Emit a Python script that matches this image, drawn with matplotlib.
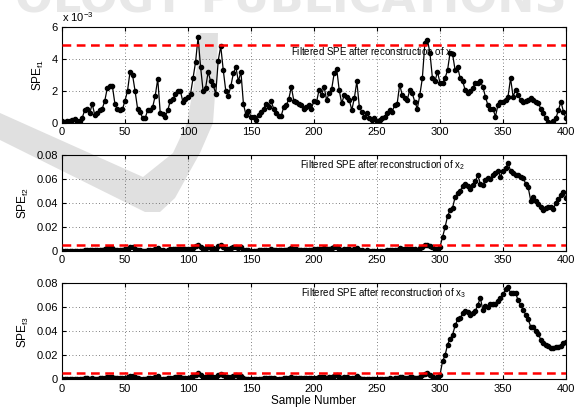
import numpy as np
import matplotlib
matplotlib.use("Agg")
import matplotlib.pyplot as plt
from matplotlib.patches import Polygon

plt.rcParams["font.family"] = ["Liberation Sans", "DejaVu Sans"]
plt.rcParams["mathtext.fontset"] = "custom"
plt.rcParams["mathtext.rm"] = "Liberation Sans"
plt.rcParams["mathtext.it"] = "Liberation Sans:italic"

# sample index (every second sample)
samples = np.arange(0, 401, 2)

# filtered SPE values, in units of 1e-3
spe_f1 = [
    0.10, 0.05, 0.15, 0.10, 0.20, 0.25, 0.10, 0.15, 0.30, 0.80,
    0.90, 0.60, 1.20, 0.50, 0.60, 0.80, 0.90, 1.40, 2.20, 2.30,
    2.30, 1.20, 0.85, 0.80, 0.85, 1.40, 2.00, 3.20, 3.00, 2.00,
    0.90, 0.70, 0.30, 0.30, 0.80, 0.80, 1.00, 1.70, 2.75, 0.60,
    0.55, 0.40, 0.80, 1.40, 1.50, 1.80, 2.00, 2.00, 1.30, 1.50,
    1.60, 1.80, 2.80, 3.80, 5.35, 3.50, 2.00, 2.20, 3.20, 2.60,
    2.40, 1.80, 3.90, 4.80, 3.30, 2.00, 1.70, 2.30, 3.10, 3.50,
    2.60, 3.20, 1.20, 0.50, 0.75, 0.40, 0.35, 0.20, 0.50, 0.70,
    0.90, 1.20, 1.00, 1.35, 0.90, 0.60, 0.45, 0.45, 1.00, 1.10,
    1.50, 2.25, 1.40, 1.30, 1.20, 1.10, 0.90, 1.00, 1.10, 0.90,
    1.40, 1.30, 2.06, 1.75, 2.27, 1.44, 1.85, 2.10, 3.10, 3.40,
    2.06, 1.23, 1.75, 1.65, 1.44, 0.81, 1.54, 2.60, 1.00, 0.70,
    0.40, 0.60, 0.29, 0.19, 0.29, 0.10, 0.20, 0.30, 0.40, 0.60,
    0.80, 0.70, 1.10, 1.20, 2.40, 1.75, 1.54, 1.44, 2.06, 1.85,
    1.33, 0.90, 1.75, 2.80, 5.00, 5.20, 4.40, 2.80, 2.60, 3.20,
    2.50, 2.50, 2.80, 3.30, 4.40, 4.30, 3.30, 3.50, 2.80, 2.60,
    2.06, 1.85, 2.00, 2.20, 2.50, 2.50, 2.60, 2.27, 1.65, 1.12,
    0.90, 0.90, 0.40, 1.12, 1.30, 1.33, 1.44, 1.65, 2.80, 1.65,
    2.06, 1.75, 1.44, 1.33, 1.40, 1.44, 1.54, 1.44, 1.30, 1.23,
    0.90, 0.60, 0.29, 0.08, 0.02, 0.10, 0.29, 0.80, 1.33, 0.70,
    0.29,
]

spe_f2 = [
    0.10, 0.05, 0.15, 0.10, 0.20, 0.25, 0.10, 0.15, 0.30, 0.80,
    0.90, 0.60, 1.20, 0.50, 0.60, 0.80, 0.90, 1.40, 2.20, 2.30,
    2.30, 1.20, 0.85, 0.80, 0.85, 1.40, 2.00, 3.20, 3.00, 2.00,
    0.90, 0.70, 0.30, 0.30, 0.80, 0.80, 1.00, 1.70, 2.75, 0.60,
    0.55, 0.40, 0.80, 1.40, 1.50, 1.80, 2.00, 2.00, 1.30, 1.50,
    1.60, 1.80, 2.80, 3.80, 5.35, 3.50, 2.00, 2.20, 3.20, 2.60,
    2.40, 1.80, 3.90, 4.80, 3.30, 2.00, 1.70, 2.30, 3.10, 3.50,
    2.60, 3.20, 1.20, 0.50, 0.75, 0.40, 0.35, 0.20, 0.50, 0.70,
    0.90, 1.20, 1.00, 1.35, 0.90, 0.60, 0.45, 0.45, 1.00, 1.10,
    1.50, 2.25, 1.40, 1.30, 1.20, 1.10, 0.90, 1.00, 1.10, 0.90,
    1.40, 1.30, 2.06, 1.75, 2.27, 1.44, 1.85, 2.10, 3.10, 3.40,
    2.06, 1.23, 1.75, 1.65, 1.44, 0.81, 1.54, 2.60, 1.00, 0.70,
    0.40, 0.60, 0.29, 0.19, 0.29, 0.10, 0.20, 0.30, 0.40, 0.60,
    0.80, 0.70, 1.10, 1.20, 2.40, 1.75, 1.54, 1.44, 2.06, 1.85,
    1.33, 0.90, 2.20, 3.60, 4.80, 5.00, 4.00, 3.00, 1.50, 2.00,
    3.6, 11.4, 19.7, 29.0, 34.0, 36.0, 45.0, 48.0, 50.0, 54.0,
    56.0, 54.0, 52.0, 55.0, 58.0, 63.0, 56.0, 55.0, 59.0, 61.0,
    60.0, 63.0, 65.0, 67.0, 62.0, 67.0, 69.0, 73.0, 67.0, 65.0,
    63.0, 63.0, 62.0, 61.0, 56.0, 53.0, 42.0, 45.0, 42.0, 39.5,
    37.0, 34.0, 36.0, 37.0, 37.0, 35.0, 40.0, 43.0, 47.0, 49.0,
    44.0,
]

spe_f3 = [
    0.10, 0.05, 0.15, 0.10, 0.20, 0.25, 0.10, 0.15, 0.30, 0.80,
    0.90, 0.60, 1.20, 0.50, 0.60, 0.80, 0.90, 1.40, 2.20, 2.30,
    2.30, 1.20, 0.85, 0.80, 0.85, 1.40, 2.00, 3.20, 3.00, 2.00,
    0.90, 0.70, 0.30, 0.30, 0.80, 0.80, 1.00, 1.70, 2.75, 0.60,
    0.55, 0.40, 0.80, 1.40, 1.50, 1.80, 2.00, 2.00, 1.30, 1.50,
    1.60, 1.80, 2.80, 3.80, 5.35, 3.50, 2.00, 2.20, 3.20, 2.60,
    2.40, 1.80, 3.90, 4.80, 3.30, 2.00, 1.70, 2.30, 3.10, 3.50,
    2.60, 3.20, 1.20, 0.50, 0.75, 0.40, 0.35, 0.20, 0.50, 0.70,
    0.90, 1.20, 1.00, 1.35, 0.90, 0.60, 0.45, 0.45, 1.00, 1.10,
    1.50, 2.25, 1.40, 1.30, 1.20, 1.10, 0.90, 1.00, 1.10, 0.90,
    1.40, 1.30, 2.06, 1.75, 2.27, 1.44, 1.85, 2.10, 3.10, 3.40,
    2.06, 1.23, 1.75, 1.65, 1.44, 0.81, 1.54, 2.60, 1.00, 0.70,
    0.40, 0.60, 0.29, 0.19, 0.29, 0.10, 0.20, 0.30, 0.40, 0.60,
    0.80, 0.70, 1.10, 1.20, 2.40, 1.75, 1.54, 1.44, 2.06, 1.85,
    1.33, 0.90, 2.20, 3.60, 4.80, 5.00, 4.00, 3.00, 1.50, 2.00,
    3.7, 15.0, 20.0, 29.0, 34.0, 37.0, 45.0, 50.0, 51.0, 55.0,
    57.0, 56.0, 54.0, 55.0, 57.0, 62.0, 68.0, 58.0, 61.0, 60.0,
    63.0, 63.0, 63.0, 65.0, 68.0, 71.0, 75.0, 77.0, 72.0, 72.0,
    72.0, 66.0, 62.0, 58.0, 54.0, 50.0, 44.0, 44.0, 40.0, 38.0,
    33.0, 30.0, 29.0, 28.0, 26.0, 26.0, 27.0, 27.0, 28.0, 30.0,
    31.0,
]

# control limits (units of 1e-3)
limits = [4.85, 5.2, 5.2]
ylabels = [r"SPE$_{\mathrm{f1}}$", r"SPE$_{\mathrm{f2}}$", r"SPE$_{\mathrm{f3}}$"]
notes = ["Filtered SPE after reconstruction of x$_1$",
         "Filtered SPE after reconstruction of x$_2$",
         "Filtered SPE after reconstruction of x$_3$"]
note_pos = [(182, 4.4), (189, 0.0717), (190, 0.0719)]

fig = plt.figure(figsize=(5.82, 4.12), dpi=100)
fig.patch.set_facecolor("white")

# journal watermark behind the plots
fig.text(0.5, 0.947, "OLOGY PUBLICATIONS", ha="center", va="bottom",
         fontsize=32, fontweight="bold", color="#e8e8e8",
         family="DejaVu Sans", zorder=-2)
vmark = np.array([(0, 113), (143, 177), (173, 153), (187, 123), (197, 67),
                  (200, 33), (218, 33), (217, 67), (213, 123), (200, 153),
                  (175, 198), (160, 212), (145, 212), (0, 140)], dtype=float)
vmark[:, 0] /= 582
vmark[:, 1] = 1 - vmark[:, 1] / 412
fig.add_artist(Polygon(vmark, closed=True, transform=fig.transFigure,
                       facecolor="#e0e0e0", edgecolor="none", zorder=-1))

boxes = [[0.1065, 0.7015, 0.866, 0.233],
         [0.1065, 0.3908, 0.866, 0.233],
         [0.1065, 0.0790, 0.866, 0.233]]
series = [spe_f1, spe_f2, spe_f3]

for i, (box, vals) in enumerate(zip(boxes, series)):
    ax = fig.add_axes(box)
    ax.set_facecolor("none")
    y = np.array(vals) if i == 0 else np.array(vals) / 1000.0
    lim = limits[i] if i == 0 else limits[i] / 1000.0
    ax.plot(samples, y, color="black", lw=0.9, marker="o", markersize=3.0,
            zorder=3)
    ax.axhline(lim, color="red", lw=1.8, dashes=(3.5, 2.2), zorder=4)
    ax.set_xlim(0, 400)
    ax.set_xticks(np.arange(0, 401, 50))
    if i == 0:
        ax.set_ylim(0, 6)
        ax.set_yticks([0, 2, 4, 6])
        ax.set_yticklabels(["0", "2", "4", "6"])
        ax.text(0.0, 1.03, r"x 10$^{-3}$", transform=ax.transAxes,
                fontsize=8, ha="left", va="bottom")
    else:
        ax.set_ylim(0, 0.08)
        ax.set_yticks([0, 0.02, 0.04, 0.06, 0.08])
        ax.set_yticklabels(["0", "0.02", "0.04", "0.06", "0.08"])
    ax.grid(True, linestyle=(0, (1, 3)), color="#555555", lw=0.6)
    ax.tick_params(direction="in", top=True, right=True, length=3,
                   labelsize=8, pad=3)
    for sp in ax.spines.values():
        sp.set_linewidth(0.8)
    ax.set_ylabel(ylabels[i], fontsize=8.5)
    ax.text(note_pos[i][0], note_pos[i][1], notes[i], fontsize=7,
            ha="left", va="center", zorder=5)
    if i == 2:
        ax.set_xlabel("Sample Number", fontsize=8.5, labelpad=1)

fig.savefig("out.png", dpi=100)
